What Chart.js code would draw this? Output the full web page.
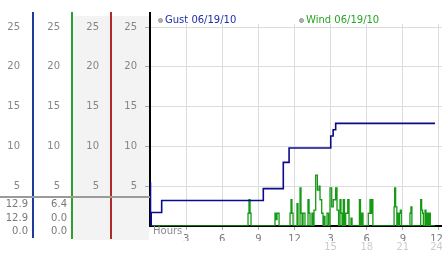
<!DOCTYPE html>
<html>
<head>
<meta charset="utf-8">
<title>Gust / Wind 06/19/10</title>
<script src="https://cdn.jsdelivr.net/npm/chart.js@4.4.1/dist/chart.umd.min.js"></script>
<style>
  body { margin: 0; background: #fff; font-family: 'DejaVu Sans', sans-serif; }
  #wrap { position: relative; width: 442px; height: 253px; overflow: hidden; }
  #shade { position: absolute; left: 73px; top: 16px; width: 76px; height: 224px; background: #f3f3f3; }
  #windChart { position: absolute; left: 0; top: 0; }
  .vline { position: absolute; width: 2px; }
  .txt { position: absolute; font-size: 10px; line-height: 12px; white-space: nowrap; }
  .dot { position: absolute; width: 5px; height: 5px; border-radius: 50%; background: #b0b0b0; border: 1px solid #999; box-sizing: border-box; }
</style>
</head>
<body>
<div id="wrap">
  <div id="shade"></div>
  <canvas id="windChart" width="442" height="253"></canvas>
  <div class="vline" style="left:32px; top:12px; height:226px; background:#1d3b9c;"></div>
  <div class="vline" style="left:71px; top:12px; height:227px; background:#2e9e2e;"></div>
  <div class="vline" style="left:110px; top:12px; height:227px; background:#b02a2a;"></div>
  <div class="vline" style="left:149px; top:12px; height:14px; background:#000;"></div>
  <div style="position:absolute; left:0; top:196px; width:150px; height:2px; background:#9a9a9a;"></div>
  <div class="dot" style="left:158px; top:18px;"></div>
  <div class="txt" style="left:165px; top:14px; color:#1e2fa6;" id="gustLegend"></div>
  <div class="dot" style="left:299px; top:18px;"></div>
  <div class="txt" style="left:306px; top:14px; color:#26a526;" id="windLegend"></div>
  <div class="txt" style="left:153px; top:225px; color:#8a8a8a;">Hours</div>
  <div id="stats"></div>
</div>
<script>
// ---------- 数据 ----------
const seriesNames = ['Gust 06/19/10', 'Wind 06/19/10'];

// 阵风（阶梯线）：时刻 (小时) / 风速
const gustHours  = [0, 0.04, 0.1, 0.97, 9.41, 11.07, 11.55, 15.01, 15.21, 15.42, 23.67];
const gustSpeeds = [5.4, 0, 1.7, 3.2, 4.7, 8.0, 9.8, 11.3, 12.1, 12.9, 12.9];

// 平均风（阶梯线）
const windHours = [
  0,
  8.14, 8.22, 8.31, 8.39,
  10.38, 10.47, 10.55, 10.72,
  11.63, 11.71, 11.79, 11.88,
  12.21, 12.29,
  12.46, 12.54, 12.63,
  12.71, 12.87,
  13.12, 13.21, 13.29,
  13.45, 13.54,
  13.62, 13.76, 13.9, 14.04, 14.12, 14.26, 14.37,
  14.45, 14.53,
  14.7, 14.83,
  14.95, 15.09, 15.22, 15.42, 15.53, 15.66,
  15.78, 15.86, 15.95,
  16.05, 16.15,
  16.25, 16.42, 16.53,
  16.69, 16.78,
  17.39, 17.48,
  17.58, 17.69,
  18.13, 18.27, 18.35, 18.43, 18.51,
  20.27, 20.32, 20.4, 20.5,
  20.54, 20.62,
  20.71, 20.79, 20.87,
  21.59, 21.67, 21.75,
  22.48, 22.56, 22.64, 22.7,
  22.84, 22.92,
  23.03, 23.11,
  23.2, 23.28,
  23.67
];
const windSpeeds = [
  0,
  1.6, 3.3, 1.6, 0,
  1.6, 0.8, 1.6, 0,
  1.6, 3.3, 1.6, 0,
  2.8, 0,
  4.8, 1.6, 0,
  1.6, 0,
  3.3, 1.6, 0,
  1.6, 0,
  2.0, 6.4, 4.5, 5.0, 3.3, 1.6, 0,
  1.2, 0,
  1.6, 0,
  4.8, 2.4, 3.3, 4.8, 2.0, 0,
  3.3, 1.6, 0,
  3.3, 0,
  1.6, 3.3, 0,
  1.0, 0,
  3.3, 0,
  1.6, 0,
  1.6, 3.3, 1.6, 3.3, 0,
  2.4, 4.8, 2.4, 0,
  1.6, 0,
  1.6, 2.0, 0,
  1.6, 2.4, 0,
  3.3, 2.0, 1.6, 0,
  2.0, 0,
  1.6, 0,
  1.6, 0,
  0
];

// 刻度
const yTicks = [5, 10, 15, 20, 25];
const xTicks = [3, 6, 9, 12, 15, 18, 21, 24];
const xTickLabels = ['3', '6', '9', '12', '3', '6', '9', '12'];
const xTickLabels24 = ['', '', '', '', '15', '18', '21', '24'];

// 左侧读数（最大 / 当前 / 最小）
const gustStats = ['12.9', '12.9', '0.0'];
const windStats = ['6.4', '0.0', '0.0'];

const Y_MAX = 25.38;
const X_MAX = 24.25;

Chart.defaults.font.family = 'DejaVu Sans';
Chart.defaults.font.size = 10;

function noPad(s) { s.paddingLeft = 0; s.paddingRight = 0; s.paddingTop = 0; s.paddingBottom = 0; }

// 最后一个刻度贴边，标签稍微往左挪（补空格）
function edgeLabel(labels) {
    return (v, i) => i === labels.length - 1 ? labels[i] + '\u2002' : labels[i];
}

function sideAxis(weight, width, pad) {
    return {
        type: 'linear', position: 'left', weight: weight, min: 0, max: Y_MAX,
        grid: { display: false, drawTicks: false },
        border: { display: false },
        ticks: { color: '#858585', padding: pad },
        afterBuildTicks: s => { s.ticks = yTicks.map(v => ({ value: v })); },
        afterFit: s => { s.width = width; noPad(s); }
    };
}

function renderStats() {
    const box = document.getElementById('stats');
    const tops = [198, 212, 225];
    gustStats.forEach((v, i) => {
        box.innerHTML += `<div class="txt" style="right:${442 - 28}px; top:${tops[i]}px; color:#7a7a7a;">${v}</div>`;
    });
    windStats.forEach((v, i) => {
        box.innerHTML += `<div class="txt" style="right:${442 - 67}px; top:${tops[i]}px; color:#7a7a7a;">${v}</div>`;
    });
    document.getElementById('gustLegend').textContent = seriesNames[0];
    document.getElementById('windLegend').textContent = seriesNames[1];
}

function renderChart() {
    const ctx = document.getElementById('windChart').getContext('2d');
    new Chart(ctx, {
        type: 'line',
        data: {
            datasets: [
                {
                    label: seriesNames[0],
                    data: gustHours.map((h, i) => ({ x: h, y: gustSpeeds[i] })),
                    borderColor: '#0b0b8a',
                    borderWidth: 1.6,
                    stepped: true,
                    pointRadius: 0,
                    fill: false
                },
                {
                    label: seriesNames[1],
                    data: windHours.map((h, i) => ({ x: h, y: windSpeeds[i] })),
                    borderColor: '#169a16',
                    borderWidth: 1.3,
                    stepped: true,
                    pointRadius: 0,
                    fill: false
                }
            ]
        },
        options: {
            responsive: false,
            animation: false,
            devicePixelRatio: 1,
            layout: { padding: { top: 24, right: 0, left: 0, bottom: 0 } },
            plugins: { legend: { display: false }, tooltip: { enabled: false } },
            scales: {
                x: {
                    type: 'linear', position: 'bottom', min: 0, max: X_MAX, weight: 0,
                    grid: { color: '#dcdcdc', tickColor: '#a8a8a8', tickLength: 4 },
                    border: { color: '#000', width: 2 },
                    ticks: { color: '#7a7a7a', padding: 3, maxRotation: 0,
                             callback: edgeLabel(xTickLabels) },
                    afterBuildTicks: s => { s.ticks = xTicks.map(v => ({ value: v })); },
                    afterFit: s => { s.height = 15; noPad(s); }
                },
                x2: {
                    type: 'linear', position: 'bottom', min: 0, max: X_MAX, weight: 1,
                    grid: { display: false, drawTicks: false },
                    border: { display: false },
                    ticks: { color: '#cccccc', padding: 0, maxRotation: 0,
                             callback: edgeLabel(xTickLabels24) },
                    afterBuildTicks: s => { s.ticks = xTicks.map(v => ({ value: v })); },
                    afterFit: s => { s.height = 12; noPad(s); }
                },
                y: {
                    type: 'linear', position: 'left', weight: 0, min: 0, max: Y_MAX,
                    grid: { color: '#dcdcdc', tickColor: '#a8a8a8', tickLength: 5 },
                    border: { color: '#000', width: 2 },
                    ticks: { color: '#858585', padding: 8 },
                    afterBuildTicks: s => { s.ticks = yTicks.map(v => ({ value: v })); },
                    afterFit: s => { s.width = 39; noPad(s); }
                },
                yC: sideAxis(1, 39, 12),
                yB: sideAxis(2, 39, 12),
                yA: sideAxis(3, 33, 13)
            }
        }
    });
}

window.addEventListener('DOMContentLoaded', () => {
    renderStats();
    renderChart();
});
</script>
</body>
</html>
